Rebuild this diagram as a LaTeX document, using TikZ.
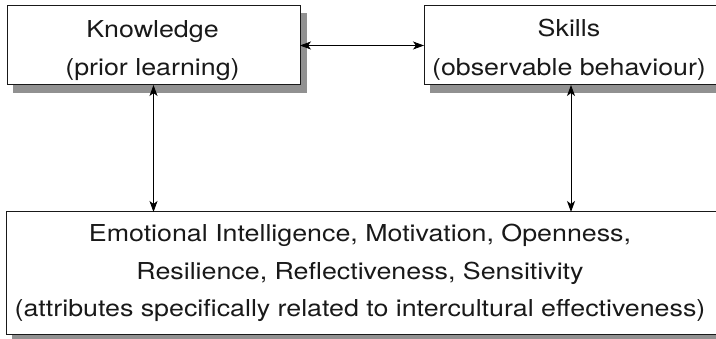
\documentclass[tikz,border=0pt]{standalone}
\usepackage{fontspec}
\setmainfont{TeX Gyre Heros}[FakeStretch=1.15]
\usetikzlibrary{arrows.meta,backgrounds}
\definecolor{shadowgray}{RGB}{145,145,145}
\definecolor{inkc}{RGB}{25,25,25}
\begin{document}
\begin{tikzpicture}[x=1pt,y=-1pt,
  box/.style={draw=inkc, fill=white, line width=1pt, inner sep=0pt, outer sep=0pt},
  shadowbox/.style={fill=shadowgray, draw=shadowgray, line width=0.5pt},
  txt/.style={font=\fontsize{23.3}{23.3}\selectfont, text=inkc, inner sep=0pt, anchor=base},
  tip/.style={Stealth[length=11pt,width=8pt,inset=3pt]},
  arr/.style={{Stealth[length=11pt,width=8pt,inset=3pt]}-{Stealth[length=11pt,width=8pt,inset=3pt]}, line width=0.9pt, draw=black}]
\path[use as bounding box] (0,0) rectangle (716,339);
\begin{scope}
\clip (0,0) rectangle (716,339);
\node[box, minimum width=293pt, minimum height=79pt] (know) at (153.5,45.5) {};
\node[box, minimum width=294pt, minimum height=79pt] (skills) at (571,45.5) {};
\node[box, minimum width=712pt, minimum height=123pt] (attr) at (362,273.5) {};
\end{scope}
\begin{scope}[on background layer]
  \clip (0,0) rectangle (716,339);
  \foreach \nm in {know,skills,attr}{
    \fill[shadowbox] ([xshift=6.5pt,yshift=-7pt]\nm.north west) rectangle ([xshift=6.5pt,yshift=-7pt]\nm.south east);
  }
\end{scope}
\node[txt] (k1) at (152.5,37.3) {Knowledge};
\node[txt] (k2) at (152.5,76) {(prior learning)};
\node[txt] (s1) at (569,36.7) {Skills};
\node[txt] (s2) at (569,76) {(observable behaviour)};
\node[txt] (a1) at (360,242) {Emotional Intelligence, Motivation, Openness,};
\node[txt] (a2) at (360,279.5) {Resilience, Reflectiveness, Sensitivity};
\node[txt] (a3) at (360,317) {(attributes specifically related to intercultural effectiveness)};
\draw[arr] (know) -- (skills);
\draw[arr] (know.south) -- (know.south |- attr.north);
\draw[arr] (skills.south) -- (skills.south |- attr.north);
\end{tikzpicture}
\end{document}
